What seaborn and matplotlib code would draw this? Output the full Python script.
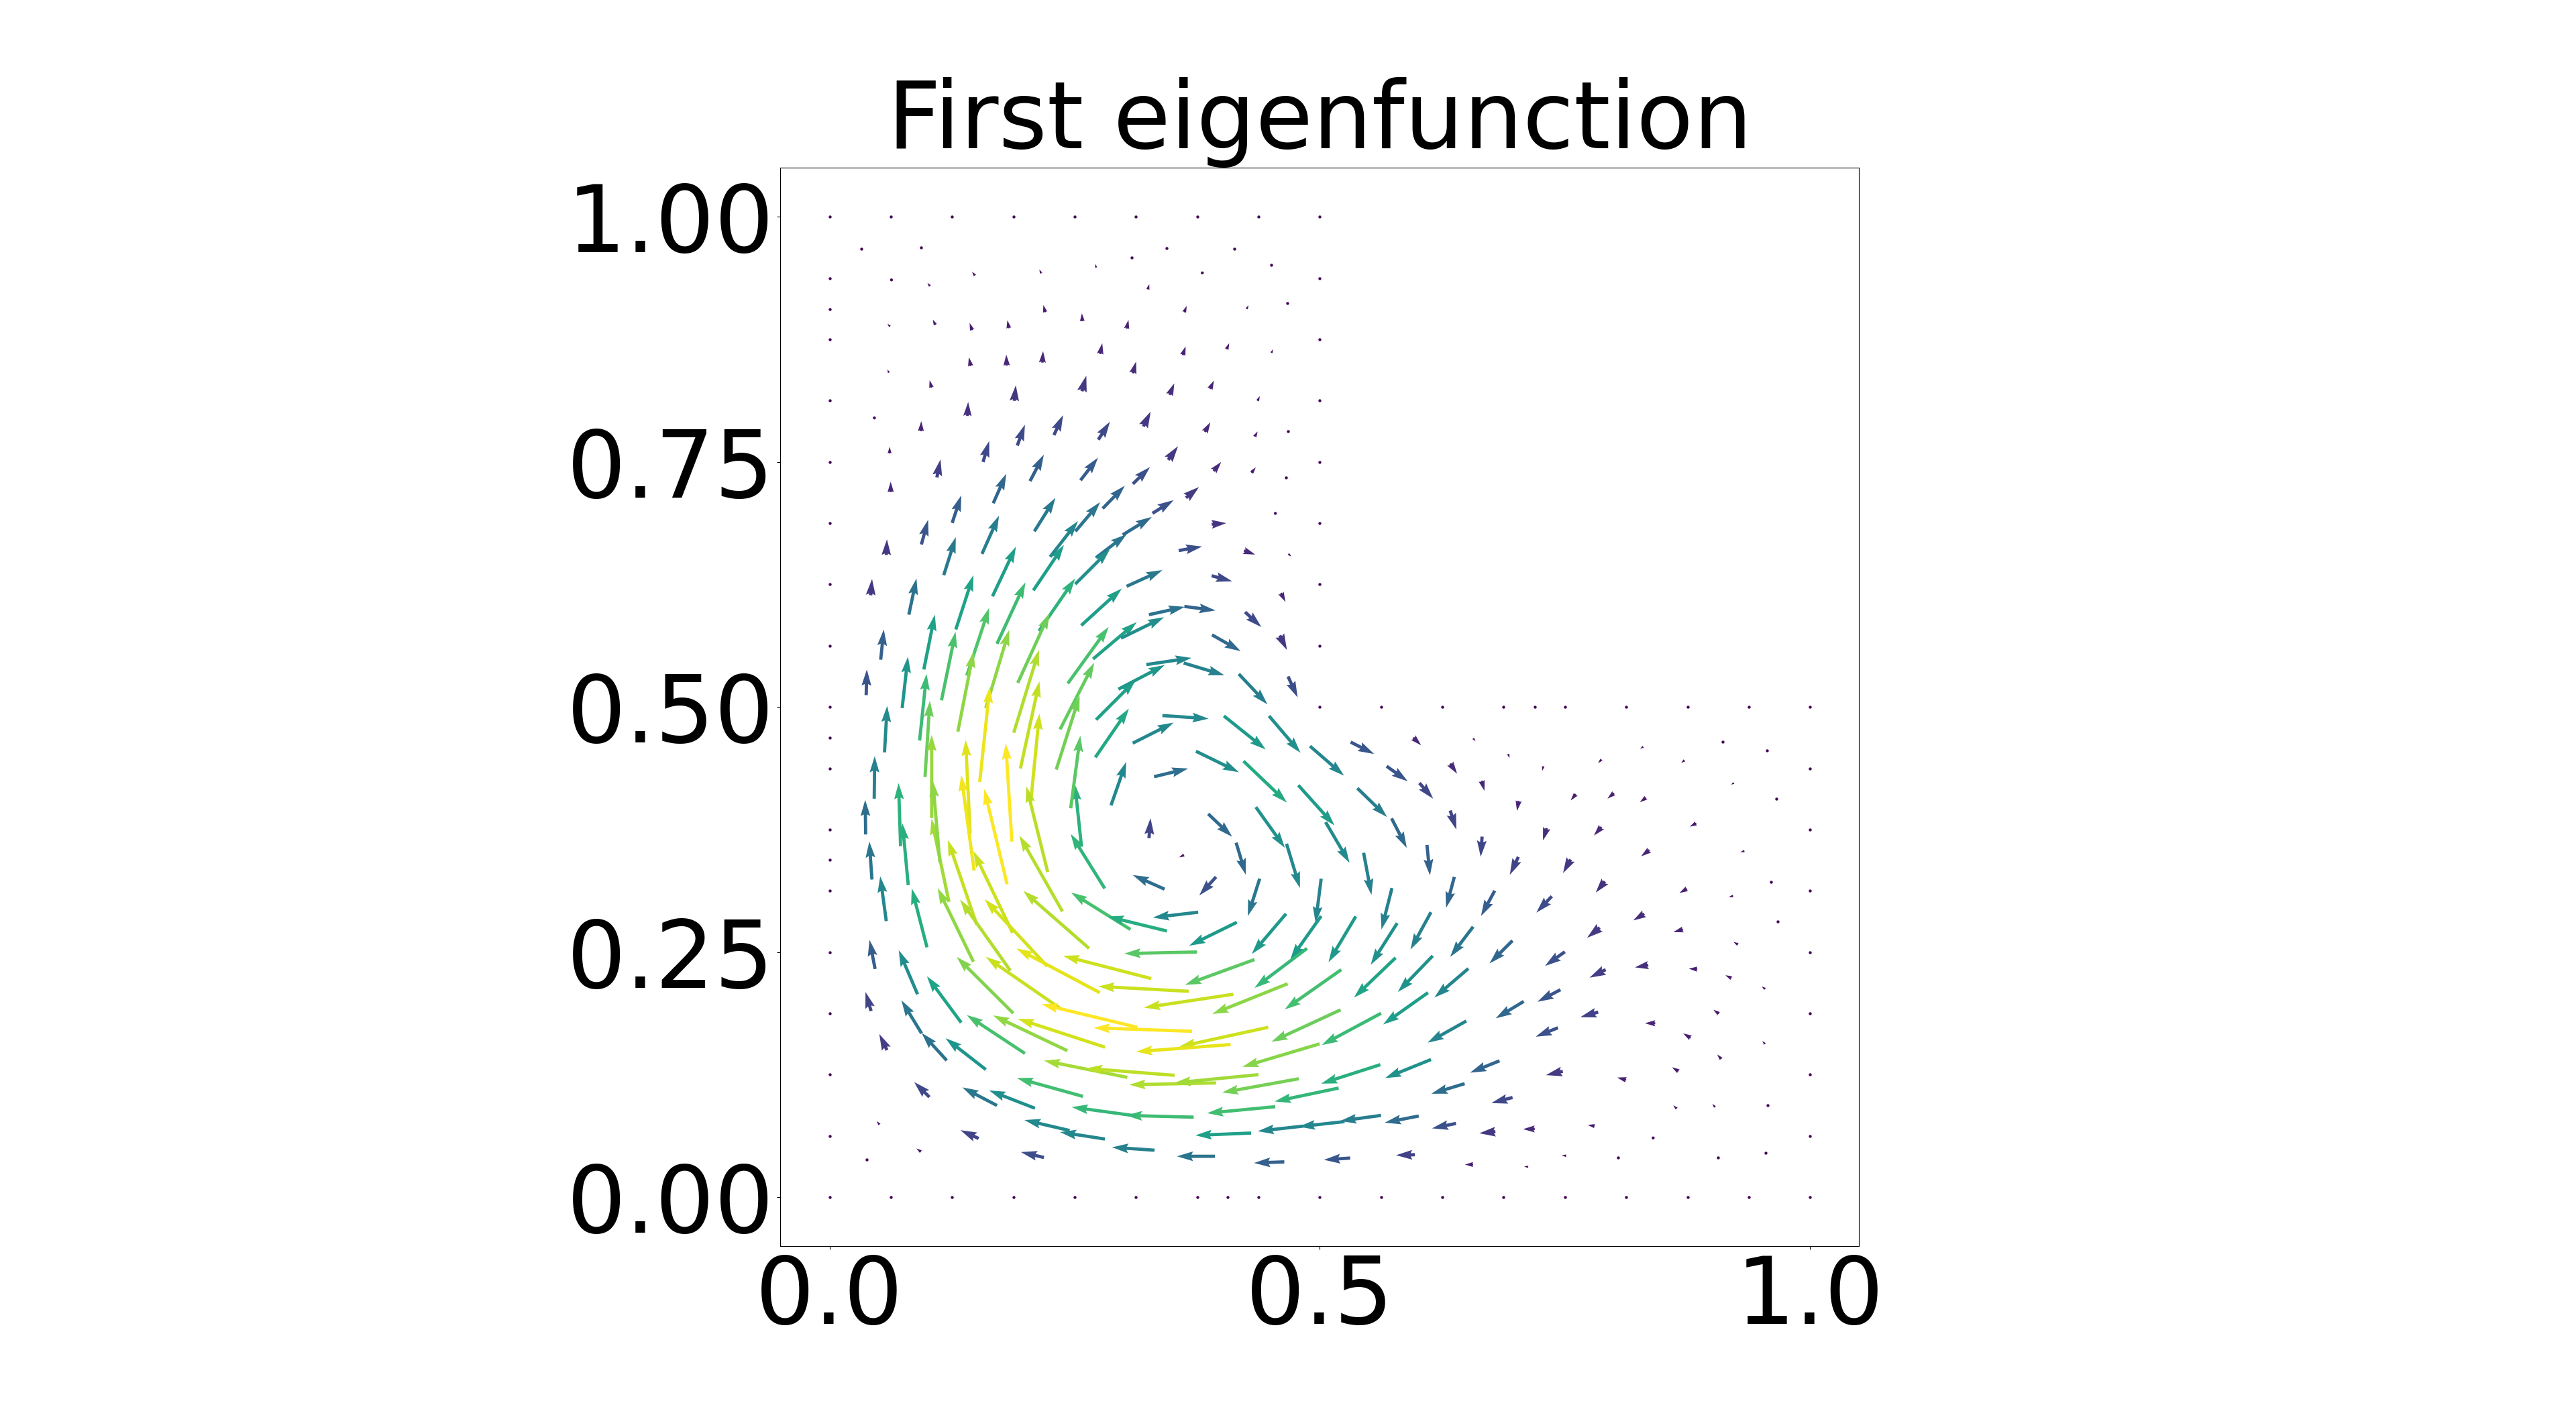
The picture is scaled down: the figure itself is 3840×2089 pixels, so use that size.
import numpy as np
import seaborn as sns
import matplotlib
matplotlib.use("Agg")
import matplotlib.pyplot as plt

# arrow tails and components, top of the L first
x_tail = [
    .0632, .1025, .1484, .2159, .2719, .3802, .3246, .4254, .3617, .22,
    .2578, .303, .1829, .1455, .108, .0617, .276, .3602, .405, .4507,
    .2171, .1807, .144, .0606, .3094, .2575, .3468, .388, .4366, .104,
    .1885, .1407, .0458, .0932, .2289, .1915, .2741, .3201, .3828, .4336,
    .0613, .1566, .3454, .1095, .2045, .256, .3094, .3917, .4303, .0624,
    .167, .2786, .3635, .3294, .4547, .1251, .2089, .2508, .3898,
    .0937, .1555, .225, .299, .2718, .2506, .0579, .1165,
    # left of the vortex
    .042, .0809, .1662, .1288, .2079, .1708, .2136, .2567, .0522, .0962,
    .14, .192, .1142, .1594, .1309, .0374, .0741, .0919, .0561, .0974,
    .1879, .243, .2688, .2351, .2718, .1947, .2312, .2711, .205, .1532,
    .186, .1434, .1475, .1042,
    .0456, .0369, .0433, .0579, .0725, .0803, .0994, .1218, .1126, .1468,
    .1503, .1845, .1867, .1811, .2225, .2376, .2221, .2647, .2757, .2351,
    .1874, .1343, .0898, .0465, .0424, .0939, .2807, .257, .246, .2871, .3069,
    # vortex centre and right side
    .3258, .3616, .3417, .3942, .376, .3441, .4154, .3748, .4387, .4147,
    .3862, .4348, .4661, .5014, .4656, .5014, .4334, .487, .5367, .5059,
    .4781, .5447, .5383, .5736, .5732, .5789, .5773, .5219, .4672, .4118,
    .3664, .3281, .5212, .5625, .6103,
    # bottom band
    .3698, .3139, .4474, .409, .2809, .2426, .1993, .1195, .1594, .0586,
    .1019, .1708, .2095, .2585, .3037, .352, .3942, .4375, .4998, .5618,
    .4786, .5192, .4546, .3714, .3133, .43, .4831, .5253, .5625, .6009,
    .531, .4638, .3931, .3315, .2809, .2449, .2187, .1521, .0933, .0511,
    # upper part of the vortex
    .303, .3258, .2973, .3619, .3561, .3897, .4227, .4679, .4238, .4604,
    .3901, .4592, .3231, .3612, .4174, .4676, .2946, .3395, .4022, .4482,
    .3092, .3737, .4222, .49, .5315, .5682, .331,
    # right arm
    .5953, .6564, .6921, .8299, .7279, .7873, .872, .633, .9224, .6651,
    .6016, .7611, .8, .8327, .7028, .633, .8839, .7314, .7873, .6655,
    .6093, .8361, .9331, .7025, .7558, .6372, .7908, .8745, .9216, .6784,
    .7366, .8309, .6134, .6564, .7855, .8704, .9264,
    .6152, .6515, .6965, .7499, .7915, .835, .885, .9199, .9542, .7454,
    .708, .6494, .7839, .8421, .907, .8782, .9541, .7429, .6134, .6833,
    .7478, .8124, .8658, .9095, .6477, .6966, .864, .9031, .6389, .6791,
    .7192, .7803, .84, .597, .6564, .7126, .7513,
]
y_tail = [
    .9357, .9293, .9401, .9424, .9482, .9428, .9259, .906, .9027, .9027,
    .8935, .886, .8864, .8844, .8898, .8881, .8601, .8589, .8649, .8612,
    .8513, .8482, .8478, .841, .8404, .8221, .8184, .8245, .8123, .8258,
    .8123, .7969, .7949, .7813, .7774, .7667, .7727, .7862, .7806, .7757,
    .7586, .75, .7521, .7342, .7305, .7313, .7276, .7407, .739, .7191,
    .7079, .7025, .7134, .6976, .6975, .6878, .6792, .6792, .6864,
    .6658, .6562, .6532, .6756, .6523, .6254, .655, .6345,
    # left of the vortex
    .614, .5942, .6129, .5791, .619, .5645, .5775, .5832, .5483, .5383,
    .532, .5246, .5068, .4989, .4749, .5121, .4989, .4658, .4537, .4286,
    .4738, .524, .549, .4772, .487, .4373, .4362, .4487, .4008, .4236,
    .3627, .3712, .3331, .3867,
    .4065, .37, .324, .2816, .3579, .3183, .2549, .3012, .3415, .2401,
    .2777, .231, .2697, .3192, .3317, .2914, .2355, .2538, .2086, .1927,
    .1876, .1781, .207, .2328, .1899, .1671, .3149, .3575, .3967, .3997, .2731,
    # vortex centre and right side
    .3662, .3491, .3142, .3267, .2907, .2715, .2804, .2501, .3249, .3616,
    .391, .3979, .3605, .3249, .2891, .2868, .2424, .2538, .2864, .3826,
    .4202, .3513, .4172, .3153, .3864, .2795, .2442, .2321, .2177, .207,
    .21, .223, .1911, .1876, .2086,
    # bottom band
    .1692, .1733, .1733, .1557, .153, .1494, .1466, .1395, .1302, .15,
    .1021, .0935, .0907, .1028, .1222, .1243, .1165, .125, .1564, .1352,
    .1208, .1113, .0923, .0816, .0828, .0654, .0725, .0771, .0834, .0828,
    .0399, .036, .0417, .0479, .0593, .068, .0405, .0599, .0463, .0741,
    # upper part of the vortex
    .6231, .5942, .5702, .6026, .6596, .6339, .6596, .6562, .5969, .6163,
    .5736, .573, .5433, .5449, .5337, .5312, .5182, .4913, .4909, .4909,
    .4631, .4549, .4448, .4601, .4642, .4396, .4289,
    # right arm
    .4688, .4681, .4521, .4596, .4396, .4464, .4457, .4423, .4225, .4248,
    .4225, .4111, .4122, .4075, .4043, .3944, .3814, .3765, .3776, .3678,
    .3593, .3541, .3531, .3471, .3445, .3267, .3221, .3146, .3073, .3126,
    .3069, .2891, .2907, .2759, .2749, .2731, .2577,
    .2462, .2332, .2617, .2503, .2321, .2367, .2326, .2234, .2123, .2116,
    .1997, .1797, .1888, .1774, .1871, .1625, .1562, .1728, .1404, .1391,
    .1284, .1197, .1284, .1409, .1158, .1017, .0903, .0919, .0752, .0668,
    .0696, .0725, .0604, .0433, .0333, .031, .0422,
]
u_comp = [
    -.0019, -.0026, -.003, -.0019, -.0007, .0015, .0015, .0019, .0026, -.0019,
    -.0004, .0019, -.0015, -.0026, -.0026, -.0026, .0022, .003, .0026, .0015,
    .0007, -.0004, -.0019, -.0015, .0033, .0044, .0048, .0041, .0022, -.0019,
    .0015, .0007, -.0007, .0004, .0093, .0078, .0119, .0074, .0056, .003,
    0, .0063, .01, .0037, .0141, .0178, .0174, .0078, .0044, 0,
    .0133, .0226, .0133, .0215, .003, .0093, .0215, .0252, .0148,
    .0069, .0174, .0284, .0297, .0312, .0353, .0007, .0123,
    # left of the vortex
    .0014, .0078, .0239, .018, .0312, .029, .0369, .0413, .0032, .0112,
    .0228, .0324, .0144, .0239, .016, .0007, .0059, .0071, .0027, .005,
    .0258, .0417, .0445, .0349, .0404, .0194, .0239, .0342, .0091, .0103,
    -.0062, -.0046, -.0132, 0,
    .0005, -.0005, -.0027, -.0062, -.0021, -.0059, -.0155, -.0178, -.0073, -.0365,
    -.0296, -.0513, -.0399, -.0233, -.0217, -.044, -.0638, -.067, -.085, -.0757,
    -.0577, -.0349, -.0192, -.0057, -.0057, -.0205, -.0347, -.0068, .0098, .0155, -.0605,
    # vortex centre and right side
    .0016, -.005, -.0324, -.0171, -.0461, -.0604, -.0486, -.0741, -.0121, .0098,
    .0244, .0296, .0137, -.0057, -.0349, -.0315, -.0707, -.0536, -.0278, .0244,
    .0369, .008, .0303, -.0107, .0155, -.0269, -.0424, -.0577, -.0768, -.091,
    -.0923, -.0898, -.0705, -.0604, -.0457,
    # bottom band
    -.1003, -.0976, -.0907, -.0962, -.0889, -.0757, -.0593, -.0255, -.041, -.0078,
    -.0155, -.0353, -.0467, -.0673, -.085, -.0901, -.0885, -.0855, -.0787, -.0604,
    -.0782, -.0652, -.0695, -.0691, -.0663, -.0568, -.0463, -.0467, -.0417, -.0346,
    -.0267, -.0308, -.0388, -.0433, -.0458, -.0461, -.0235, -.0185, -.0046, -.003,
    # upper part of the vortex
    .0365, .0365, .0438, .0317, .0239, .021, .0114, .0032, .0166, .0046,
    .0292, .0073, .0461, .0415, .0292, .0098, .0472, .0472, .0426, .0321,
    .0417, .0438, .0442, .0347, .0239, .0214, .0347,
    # right arm
    .008, .0024, .0014, -.0031, -.001, -.0035, -.0035, .007, -.0031, .0028,
    .014, -.0052, -.0066, -.0063, -.0017, .0063, -.0066, -.0038, -.0077, -.0014,
    .0031, -.0084, -.0042, -.0087, -.0077, -.0084, -.0094, -.0077, -.0045, -.014,
    -.0157, -.0112, -.0209, -.0234, -.0129, -.0098, -.0045,
    -.0356, -.0346, -.0234, -.0202, -.0164, -.0136, -.0087, -.0063, -.0035, -.0234,
    -.0286, -.0394, -.0182, -.0105, -.0056, -.0077, -.0028, -.0227, -.0468, -.03,
    -.0171, -.0091, -.0066, -.0042, -.0339, -.0216, -.0035, -.0028, -.0244, -.0164,
    -.0119, -.007, -.0017, -.0192, -.0084, -.0042, -.0045,
]
v_comp = [
    .002, .0034, .0039, .0039, .0037, .0027, .0054, .0039, .0064, .0073,
    .0081, .0088, .0081, .0073, .0054, .0029, .011, .009, .0061, .0037,
    .0117, .0112, .009, .0034, .012, .0159, .0117, .0085, .0049, .0076,
    .0159, .0142, .0029, .0103, .0203, .0213, .0183, .0151, .0098, .0054,
    .0068, .0213, .0139, .0183, .0269, .023, .0171, .0093, .0054, .0107,
    .03, .0232, .011, .0134, .001, .0281, .0342, .0298, .0012,
    .0252, .039, .0365, .0183, .0239, .0353, .016, .0388,
    # left of the vortex
    .0166, .0369, .0506, .0554, .0463, .0627, .0536, .0376, .0308, .0559,
    .0691, .0711, .07, .0798, .0816, .0262, .0524, .0679, .0474, .0777,
    .0844, .0578, .0376, .068, .0404, .0889, .0752, .0497, .0925, .0969,
    .1001, .0952, .0973, .0848,
    .0433, .0353, .0388, .0456, .0645, .063, .06, .0848, .0832, .0752,
    .0866, .0725, .0832, .0971, .0873, .0775, .0684, .0586, .0451, .0524,
    .0575, .0472, .0449, .0296, .0194, .0337, .0556, .0638, .0741, .0444, .0377,
    # vortex centre and right side
    .0203, -.0025, .0144, -.0189, -.0055, .0148, -.0239, -.0016, -.0381, -.0326,
    -.0233, -.0415, -.0451, -.0449, -.041, -.0445, -.0258, -.0404, -.0467, -.0415,
    -.041, -.0429, -.0294, -.0422, -.0301, -.0424, -.0406, -.0406, -.0308, -.0137,
    .005, .0232, -.0326, -.0324, -.0324,
    # bottom band
    .0036, .0235, -.0198, -.0073, .029, .036, .0392, .028, .0319, .0164,
    .0153, .0185, .0182, .0187, .0171, .0071, -.0018, -.0084, -.0235, -.0194,
    -.0141, -.0137, -.0066, .0018, .0091, -.0023, -.0052, -.0052, -.0057, -.0068,
    -.0018, -.0011, 0, .003, .0071, .0107, .0055, .0084, .0034, .0034,
    # upper part of the vortex
    .0166, .008, .0214, -.0041, .0041, -.0057, -.0041, -.0027, -.0153, -.0091,
    -.0166, -.0148, .0068, -.0125, -.031, -.0214, .0246, -.0032, -.0342, -.0376,
    .021, -.0214, -.0422, -.0301, -.0121, -.0153, .0084,
    # right arm
    -.0078, -.003, -.0041, -.0023, -.0046, -.0036, -.0027, -.0103, -.0016, -.0103,
    -.016, -.0064, -.0057, -.0046, -.0103, -.0194, -.0034, -.0125, -.0087, -.0205,
    -.031, -.0064, -.0011, -.0182, -.0139, -.0315, -.0114, -.0043, -.0011, -.0258,
    -.0166, -.0068, -.0381, -.0308, -.0103, -.0027, .0027,
    -.0369, -.0296, -.0233, -.0144, -.0082, -.0023, .0005, .003, .0027, -.0123,
    -.0173, -.0221, -.0052, 0, .0041, .0046, .003, -.0091, -.0189, -.0121,
    -.0039, .0023, .0041, .0046, -.0103, -.0057, .0034, .0032, -.005, -.0016,
    -.0002, .0011, .0023, -.0005, 0, .0002, .0005,
]

# mesh nodes where the field is zero
dot_x = [
    0, .0625, .125, .1875, .25, .3125, .375, .4375, .5,
    0, 0, 0, 0, 0, 0, 0, 0, 0, 0, 0, 0, 0, 0, 0, 0, 0, 0,
    .5, .5, .5, .5, .5, .5, .5,
    .0324, .0936, .3435, .4129, .3079, .4507, .4666, .4677, .4655,
    .5, .5625, .625, .6875, .719, .75, .8125, .875, .9375, 1,
    1, 1, 1, 1, 1, 1, 1,
    .9112, .9562, .9656, .96, .9667, .9565, .9548, .9064, .804, .0381,
    0, .0625, .125, .1875, .25, .3125, .375, .406, .4375, .5,
    .5625, .625, .6875, .75, .8125, .875, .9375, 1,
]
dot_y = [
    1, 1, 1, 1, 1, 1, 1, 1, 1,
    .9375, .906, .875, .8125, .75, .6875, .625, .5625, .5, .469, .4375, .375, .344, .3125, .25, .1875, .125, .0625,
    .9375, .875, .8125, .75, .6875, .625, .5625,
    .9674, .9687, .9682, .9672, .9588, .9509, .9122, .7813, .7339,
    .5, .5, .5, .5, .5, .5, .5, .5, .5, .5,
    .4375, .375, .3125, .25, .1875, .125, .0625,
    .4649, .456, .4063, .3217, .2813, .0937, .0454, .0406, .0401, .0383,
    0, 0, 0, 0, 0, 0, 0, 0, 0, 0,
    0, 0, 0, 0, 0, 0, 0, 0,
]

x_ticks = [0.0, 0.5, 1.0]
y_ticks = [0.0, 0.25, 0.5, 0.75, 1.0]

sns.set_theme(style="ticks", rc={
    "axes.edgecolor": "black", "axes.linewidth": 0.8,
    "xtick.color": "black", "ytick.color": "black",
    "xtick.major.size": 3.5, "ytick.major.size": 3.5,
    "xtick.major.width": 0.8, "ytick.major.width": 0.8,
    "text.color": "black",
})
plt.rcParams["font.family"] = ["DejaVu Sans"]

viridis = sns.color_palette("viridis", as_cmap=True)

fig = plt.figure(figsize=(38.4, 20.89), dpi=100)
ax = fig.add_axes([0.30294, 0.1105, 0.4188, 0.7697])

mag = np.hypot(u_comp, v_comp)
ax.quiver(x_tail, y_tail, u_comp, v_comp, mag, cmap=viridis, clim=(0, mag.max()),
          angles="xy", scale_units="xy", scale=1, width=0.003)
sns.scatterplot(x=dot_x, y=dot_y, ax=ax, color=viridis(0.0), s=10, linewidth=0, zorder=3)

ax.set_xlim(-0.05, 1.05)
ax.set_ylim(-0.05, 1.05)
ax.set_aspect("equal")
ax.set_xticks(x_ticks)
ax.set_xticklabels(["0.0", "0.5", "1.0"])
ax.set_yticks(y_ticks)
ax.set_yticklabels(["0.00", "0.25", "0.50", "0.75", "1.00"])
ax.tick_params(labelsize=100)
ax.set_title("First eigenfunction", fontsize=100)

fig.savefig("out.png", dpi=100)
